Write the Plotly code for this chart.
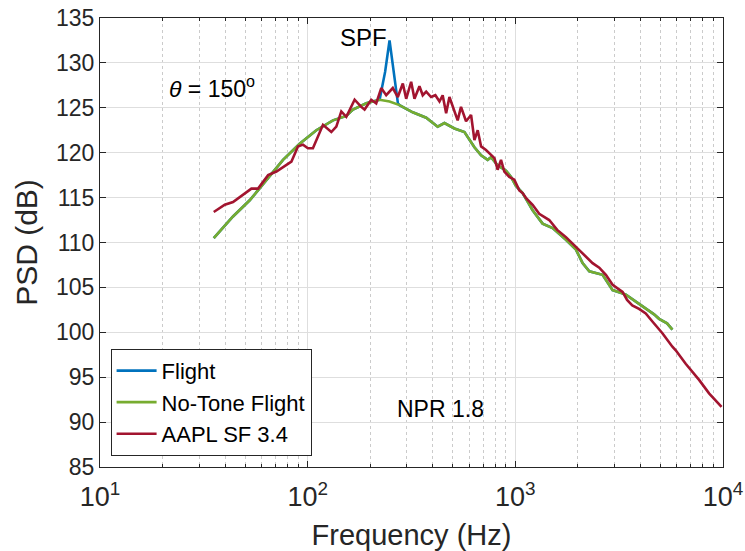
import plotly.graph_objects as go

# ---------------- data ----------------
notone_freq = [35.3, 43.7, 52.6, 63.3, 76.1, 91.5, 110.1, 132.4, 153.5, 165.2, 191.5, 222.0,
               247.9, 276.8, 320.6, 372.2, 422.7, 455.6, 509.0, 568.8, 601.2, 635.3, 684.1,
               735.6, 763.9, 821.7, 902.0, 953.4, 1007, 1084, 1142, 1211, 1353, 1512, 1753,
               1959, 2108, 2271, 2631, 2940, 3407, 4093, 4406, 4656, 4923, 5379, 5706]
notone_psd = [110.5, 112.9, 114.7, 117.0, 119.2, 121.0, 122.5, 123.6, 124.1, 124.8, 125.5, 125.9,
              125.7, 125.3, 124.5, 123.9, 122.9, 123.3, 122.7, 122.3, 121.4, 120.6, 119.7,
              119.2, 119.5, 118.6, 118.0, 117.3, 116.3, 115.5, 114.6, 113.6, 112.1, 111.6, 110.3,
              109.2, 107.7, 106.8, 106.4, 104.7, 104.2, 102.9, 102.4, 102.0, 101.5, 101.0, 100.3]

flight_freq = [35.3, 43.7, 52.6, 63.3, 76.1, 91.5, 110.1, 132.4, 153.5, 165.2, 191.5, 222.0,
               236.0, 247.9, 259.0, 272.0, 276.8, 320.6, 372.2, 422.7, 455.6, 509.0, 568.8,
               601.2, 635.3, 684.1, 735.6, 763.9, 821.7, 902.0, 953.4, 1007, 1084, 1142, 1211,
               1353, 1512, 1753, 1959, 2108, 2271, 2631, 2940, 3407, 4093, 4406, 4656, 4923,
               5379, 5706]
flight_psd = [110.5, 112.9, 114.7, 117.0, 119.2, 121.0, 122.5, 123.6, 124.1, 124.8, 125.5, 125.9,
              129.0, 132.5, 129.0, 125.5, 125.3, 124.5, 123.9, 122.9, 123.3, 122.7, 122.3,
              121.4, 120.6, 119.7, 119.2, 119.5, 118.6, 118.0, 117.3, 116.3, 115.5, 114.6, 113.6,
              112.1, 111.6, 110.3, 109.2, 107.7, 106.8, 106.4, 104.7, 104.2, 102.9, 102.4, 102.0,
              101.5, 101.0, 100.3]

aapl_freq = [35.3, 39.9, 43.7, 48.9, 53.6, 57.7, 64.5, 70.7, 79.0, 83.5, 89.8, 94.9, 100.3,
             106.0, 118.5, 130.0, 137.4, 145.2, 153.5, 168.3, 181.2, 187.9, 202.4, 213.8,
             226.1, 238.9, 257.0, 271.7, 287.2, 298.1, 315.0, 326.8, 345.4, 358.2, 372.2,
             392.8, 412.0, 431.3, 446.8, 464.3, 481.5, 509.0, 527.7, 547.5, 579.0, 612.3,
             635.3, 658.9, 684.1, 722.3, 750.0, 793.1, 821.7, 853.1, 885.2, 935.4, 988.6,
             1045, 1084, 1130, 1211, 1303, 1456, 1591, 1753, 2032, 2355, 2536, 2729, 2940,
             3283, 3452, 3658, 3942, 4246, 4571, 5107, 5706, 5921, 6613, 7670, 8568, 9840]
aapl_psd = [113.4, 114.2, 114.5, 115.3, 116.0, 116.0, 117.5, 117.9, 118.6, 119.0, 120.7, 120.9, 120.5,
            120.5, 123.1, 122.3, 122.9, 124.6, 124.0, 125.9, 125.1, 124.8, 125.9, 125.5,
            127.2, 126.4, 127.2, 126.2, 127.7, 126.0, 127.9, 126.0, 127.4, 126.4, 126.8,
            126.2, 126.4, 125.7, 126.4, 124.4, 126.2, 124.6, 123.6, 125.1, 123.5, 124.2,
            121.4, 122.5, 120.7, 120.3, 119.9, 119.4, 118.1, 119.2, 117.9, 117.3, 117.0,
            115.8, 115.5, 114.9, 114.2, 113.2, 112.5, 111.4, 110.6, 109.2, 107.7, 107.2, 106.4, 105.3,
            104.5, 103.6, 103.0, 102.6, 102.1, 101.2, 99.9, 98.4, 98.0, 96.5, 94.7, 93.2, 91.7]

series_names = ["Flight", "No-Tone Flight", "AAPL SF 3.4"]
series_colors = ["#0072BD", "#77AC30", "#A2142F"]

x_tickvals = [10, 100, 1000, 10000]
x_ticktext = ["10<sup>1</sup>", "10<sup>2</sup>", "10<sup>3</sup>", "10<sup>4</sup>"]
y_tickvals = [85, 90, 95, 100, 105, 110, 115, 120, 125, 130, 135]
x_minor = [m * d for d in (10, 100, 1000) for m in range(2, 10)]

FONT = "Liberation Sans, Arial, Helvetica, sans-serif"
AX = "#262626"

fig = go.Figure()
for fx, fy, name, col in zip([flight_freq, notone_freq, aapl_freq],
                             [flight_psd, notone_psd, aapl_psd],
                             series_names, series_colors):
    fig.add_trace(go.Scatter(x=fx, y=fy, mode="lines", name=name,
                             line=dict(color=col, width=2.6)))

fig.update_layout(
    width=745, height=551,
    margin=dict(l=100, r=22, t=18, b=84),
    paper_bgcolor="white", plot_bgcolor="white",
    font=dict(family=FONT, size=22, color=AX),
    showlegend=True,
    legend=dict(x=0.017, y=0.025, xanchor="left", yanchor="bottom",
                bgcolor="white", bordercolor=AX, borderwidth=1,
                font=dict(family=FONT, size=22, color="#000000"),
                tracegroupgap=0, itemwidth=40),
)

fig.update_xaxes(
    type="log", range=[1, 4], automargin=False,
    tickvals=x_tickvals, ticktext=x_ticktext,
    showline=True, linecolor=AX, linewidth=1, mirror="ticks",
    ticks="inside", ticklen=6, tickcolor=AX,
    showgrid=True, gridcolor="#dedede", gridwidth=1,
    zeroline=False,
    tickfont=dict(size=27, color=AX),
    ticklabelstandoff=6,
    minor=dict(tickvals=x_minor, ticks="inside", ticklen=3, tickcolor=AX,
               showgrid=True, gridcolor="#cbcbcb", griddash="dot", gridwidth=1),
    title=dict(text="Frequency (Hz)", font=dict(size=29, color=AX), standoff=13),
)
fig.update_yaxes(
    range=[85, 135], tickvals=y_tickvals, automargin=False,
    showline=True, linecolor=AX, linewidth=1, mirror="ticks",
    ticks="inside", ticklen=6, tickcolor=AX,
    showgrid=True, gridcolor="#dedede", gridwidth=1,
    zeroline=False,
    tickfont=dict(size=23, color=AX),
    title=dict(text="PSD (dB)", font=dict(size=30, color=AX), standoff=9),
)

fig.add_annotation(x=2.269, y=132.8, xref="x", yref="y", text="SPF", showarrow=False,
                   font=dict(size=24, color="#000000"))
fig.add_annotation(x=1.538, y=127.3, xref="x", yref="y",
                   text="<i>θ</i> = 150<sup>o</sup>", showarrow=False,
                   font=dict(size=23, color="#000000"))
fig.add_annotation(x=2.639, y=91.5, xref="x", yref="y", text="NPR 1.8", showarrow=False,
                   font=dict(size=23, color="#000000"))

fig.write_html("out.html")
